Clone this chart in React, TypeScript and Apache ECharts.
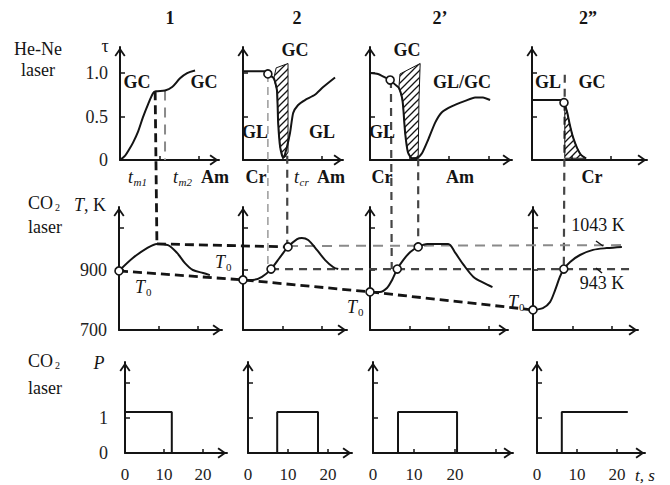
import React, { useEffect, useRef } from 'react';
import * as echarts from 'echarts';

const FONT = '"Liberation Serif", "DejaVu Serif", serif';
const INK = '#141414';

// ---------- data (t in s; τ; T in K; P in a.u.) ----------
const colTitles = ['1', '2', '2’', '2”'];

// He-Ne probe transmission τ(t)
const tau1 = [[0, 0], [1.3, 0.05], [2.3, 0.12], [3.3, 0.2], [4.6, 0.33], [5.8, 0.49], [7.1, 0.64], [8.4, 0.77], [9.1, 0.79], [11.4, 0.8], [13.2, 0.84], [15.2, 0.94], [17.0, 1.0], [19.0, 1.03]];
const tau2 = [[0, 1.02], [6.1, 1.02], [6.3, 0.99], [7.8, 0.94], [8.6, 0.8], [8.9, 0.43], [9.4, 0.15], [10.1, 0.03], [10.6, 0.06], [11.9, 0.31], [12.7, 0.54], [13.9, 0.63], [15.7, 0.69], [18.2, 0.75], [20.3, 0.84], [23.3, 0.95]];
const tau3 = [[0, 1.0], [2.0, 0.99], [3.8, 0.95], [5.1, 0.92], [6.3, 0.87], [7.3, 0.83], [8.1, 0.72], [8.4, 0.61], [8.9, 0.31], [9.6, 0.09], [10.6, 0.02], [11.9, 0.02], [13.2, 0.08], [14.7, 0.23], [16.5, 0.43], [18.2, 0.55], [20.8, 0.62], [24.1, 0.68], [26.6, 0.72], [28.6, 0.72], [30.4, 0.69]];
const tau4 = [[0, 0.69], [7.6, 0.69], [8.1, 0.66], [8.9, 0.55], [9.6, 0.4], [10.4, 0.26], [11.4, 0.14], [12.4, 0.06], [13.7, 0.02]];

// hatched (crystallisation) regions on τ(t)
const hatch2 = [[7.8, 0.94], [8.4, 1.06], [11.4, 1.11], [11.4, 0.09], [10.6, 0.03], [10.1, 0.03], [9.4, 0.15], [8.9, 0.43], [8.6, 0.8]];
const hatch3 = [[7.3, 0.83], [7.6, 0.99], [12.7, 1.11], [12.4, 0.69], [12.2, 0.03], [10.6, 0.02], [9.6, 0.09], [8.9, 0.31], [8.4, 0.61], [8.1, 0.72]];
const hatch4 = [[8.3, 0.66], [8.9, 0.55], [9.6, 0.4], [10.4, 0.26], [11.4, 0.14], [12.4, 0.06], [13.7, 0.02], [8.3, 0.02]];

const tauMarks2 = [[6.3, 0.99]];
const tauMarks3 = [[5.1, 0.92]];
const tauMarks4 = [[8.1, 0.66]];

// CO2-heated temperature T(t)
const temp1 = [[0, 897], [3.5, 940], [7.1, 973], [9.6, 987], [12.4, 983], [14.7, 957], [16.7, 923], [18.7, 900], [21.3, 890], [23.0, 883]];
const temp2 = [[0, 867], [2.5, 867], [4.8, 877], [7.1, 903], [9.4, 943], [11.4, 977], [13.7, 1003], [14.9, 1007], [16.5, 1000], [18.7, 967], [20.8, 933], [22.8, 910], [24.1, 903]];
const temp3 = [[0, 827], [2.5, 827], [4.3, 840], [5.6, 867], [6.9, 903], [8.4, 933], [10.2, 960], [12.2, 977], [14.5, 987], [19.8, 987], [21.6, 957], [23.7, 917], [26.2, 877], [28.8, 857], [31.0, 843]];
const temp4 = [[0, 767], [2.5, 773], [4.3, 793], [5.6, 833], [6.8, 877], [7.8, 903], [9.4, 927], [11.9, 950], [15.2, 967], [18.7, 973], [22.5, 977]];

const tempMarks1 = [[0, 897]];
const tempMarks2 = [[0, 867], [7.1, 903], [11.4, 977]];
const tempMarks3 = [[0, 827], [6.9, 903], [12.2, 977]];
const tempMarks4 = [[0, 767], [7.8, 903]];

// CO2 laser power P(t)
const pulse1 = [[0, 1.17], [12.0, 1.17], [12.0, 0]];
const pulse2 = [[7.3, 0], [7.3, 1.17], [17.5, 1.17], [17.5, 0]];
const pulse3 = [[6.1, 0], [6.1, 1.17], [20.5, 1.17], [20.5, 0]];
const pulse4 = [[6.2, 0], [6.2, 1.17], [22.7, 1.17]];

// tick values
const tauTicks = [0.5, 1.0];
const tauLabels = [0, 0.5, 1.0];
const tempTicks = [900, 1040];
const tempLabels = [700, 900];
const powerTicks = [1, 2];
const powerLabels = [0, 1];
const timeTicks = [10, 20];
const timeTicksLong = [10, 20, 30];
const timeLabels = [0, 10, 20];

// cross-panel guide lines: [panel, t, value]
const guideTm1 = [[0, 8.9, 0.79], [4, 9.6, 987]];
const guideTm2 = [[0, 11.4, 0.8], [0, 11.4, 0]];
const guideCr2 = [[1, 6.3, 0.99], [5, 6.3, 915]];
const guideTcr2 = [[1, 11.2, 0.05], [5, 11.2, 977]];
const guideCr3 = [[2, 5.3, 0.92], [6, 5.5, 903]];
const guideEnd3 = [[2, 12.2, 0.02], [6, 12.2, 977]];
const guideCr4 = [[3, 8.3, 0.98], [7, 7.8, 903]];
const peakLink = [[4, 9.6, 987], [5, 11.4, 977]];
const level1043 = [[5, 11.4, 980], [7, 23.8, 983]];
const level943 = [[5, 7.1, 903], [7, 25.0, 903]];
const t0Link = [[4, 0, 897], [5, 0, 867], [6, 0, 827], [7, 0, 767]];

// ---------- layout ----------
const ROWS = [
  { top: 47, height: 113, yMin: 0, yMax: 1.3, lefts: [120, 243, 370, 532], widths: [99, 100, 142, 115], pps: [3.95, 3.95, 3.95, 3.95] },
  { top: 207, height: 123, yMin: 700, yMax: 1110, lefts: [119, 243, 370, 533], widths: [103, 104, 138, 105], pps: [3.95, 3.95, 3.95, 3.95] },
  { top: 362, height: 91, yMin: 0, yMax: 2.6, lefts: [125, 248, 373, 537], widths: [102, 104, 140, 108], pps: [3.9, 4.0, 4.1, 4.0] },
];

const ARROW = 'path://M6,0L12,8.6L10.4,9.8L6,3.4L1.6,9.8L0,8.6Z';

function makeHatch() {
  const c = document.createElement('canvas');
  c.width = 7; c.height = 7;
  const g = c.getContext('2d')!;
  g.strokeStyle = INK; g.lineWidth = 1.3;
  g.beginPath();
  g.moveTo(0, 7); g.lineTo(7, 0);
  g.moveTo(-1, 1); g.lineTo(1, -1);
  g.moveTo(6, 8); g.lineTo(8, 6);
  g.stroke();
  return { image: c.toDataURL(), repeat: 'repeat', imageWidth: 7, imageHeight: 7 };
}

const txt = (x: number, y: number, text: string, extra: any = {}) => ({
  type: 'text', x, y, z: 10, silent: true,
  style: { text, fontFamily: FONT, fontSize: 18, fill: INK, align: 'center', verticalAlign: 'middle', ...extra },
});
const withSub = (x: number, y: number, main: string, sub: string, mainW: number, mainExtra: any = {}, subExtra: any = {}, drop = 5) => [
  txt(x, y, main, { align: 'left', ...mainExtra }),
  txt(x + mainW, y + drop, sub, { align: 'left', fontSize: 11, ...subExtra }),
];

export default function App() {
  const ref = useRef<HTMLDivElement>(null);
  useEffect(() => {
    document.body.style.margin = '0';
    const chart = echarts.init(ref.current!, null, { renderer: 'svg' });
    const hatch = makeHatch();

    const grids: any[] = [];
    const xAxes: any[] = [];
    const yAxes: any[] = [];
    ROWS.forEach((row, r) => {
      row.lefts.forEach((left, c) => {
        const g = r * 4 + c;
        grids.push({ left, top: row.top, width: row.widths[c], height: row.height, containLabel: false, outerBoundsMode: 'none' });
        const xMax = row.widths[c] / row.pps[c];
        const axisLine = { show: true, onZero: false, lineStyle: { color: INK, width: 2 }, symbol: ['none', ARROW], symbolSize: [11, 10], symbolOffset: [0, -5] };
        xAxes.push({
          type: 'value', gridIndex: g, min: 0, max: xMax, axisLine,
          axisTick: { show: true, inside: true, length: 4, lineStyle: { color: INK, width: 1.5 }, customValues: c === 2 ? timeTicksLong : timeTicks },
          axisLabel: r === 2 ? { show: true, customValues: timeLabels, fontFamily: FONT, fontSize: 17, color: '#222', margin: 13 } : { show: false },
          splitLine: { show: false },
        });
        const yt = r === 0 ? tauTicks : r === 1 ? tempTicks : powerTicks;
        const yl = r === 0 ? tauLabels : r === 1 ? tempLabels : powerLabels;
        yAxes.push({
          type: 'value', gridIndex: g, min: row.yMin, max: row.yMax, axisLine,
          axisTick: { show: true, inside: true, length: 5, lineStyle: { color: INK, width: 1.5 }, customValues: yt },
          axisLabel: c === 0 ? {
            show: true, customValues: yl, fontFamily: FONT, fontSize: 18, color: '#222', margin: r === 2 ? 17 : 12,
            formatter: (v: number) => (r === 0 && v === 1 ? '1.0' : String(v)),
          } : { show: false },
          splitLine: { show: false },
        });
      });
    });

    const curve = (g: number, data: number[][], smooth: number | boolean = 0.3) => ({
      type: 'line', xAxisIndex: g, yAxisIndex: g, data, showSymbol: false, smooth, silent: true, z: 3,
      lineStyle: { color: INK, width: 2 },
    });
    const marks = (g: number, data: number[][]) => ({
      type: 'scatter', xAxisIndex: g, yAxisIndex: g, data, symbol: 'circle', symbolSize: 8, silent: true, z: 5,
      itemStyle: { color: '#fff', borderColor: INK, borderWidth: 1.6, opacity: 1 },
    });
    const hatched = (g: number, poly: number[][]) => ({
      type: 'custom', xAxisIndex: g, yAxisIndex: g, data: [poly[0]], silent: true, z: 2,
      renderItem: (_p: any, api: any) => ({
        type: 'polygon',
        shape: { points: poly.map((p) => api.coord(p)) },
        style: { fill: hatch, stroke: INK, lineWidth: 1 },
      }),
    });

    const series: any[] = [
      curve(0, tau1), curve(1, tau2, 0.2), curve(2, tau3, 0.2), curve(3, tau4, 0.2),
      hatched(1, hatch2), hatched(2, hatch3), hatched(3, hatch4),
      marks(1, tauMarks2), marks(2, tauMarks3), marks(3, tauMarks4),
      curve(4, temp1), curve(5, temp2), curve(6, temp3), curve(7, temp4),
      marks(4, tempMarks1), marks(5, tempMarks2), marks(6, tempMarks3), marks(7, tempMarks4),
      curve(8, pulse1, false), curve(9, pulse2, false), curve(10, pulse3, false), curve(11, pulse4, false),
    ];

    chart.setOption({
      animation: false,
      backgroundColor: '#fff',
      grid: grids, xAxis: xAxes, yAxis: yAxes, series,
    });

    const px = (p: number[]) => chart.convertToPixel({ gridIndex: p[0] } as any, [p[1], p[2]]) as number[];
    const BOLD = { stroke: INK, lineWidth: 2.8, lineDash: [9, 5] };
    const MID = { stroke: '#454545', lineWidth: 2.2, lineDash: [8, 6] };
    const GRAY = { stroke: '#8a8a8a', lineWidth: 2, lineDash: [10, 7] };
    const THIN = { stroke: '#9a9a9a', lineWidth: 1.5, lineDash: [8, 5] };
    const guides: [number[][], any][] = [
      [guideTm1, BOLD], [guideTm2, GRAY], [guideCr2, THIN], [guideTcr2, MID],
      [guideCr3, MID], [guideEnd3, MID], [guideCr4, MID],
      [peakLink, BOLD], [level1043, GRAY], [level943, MID], [t0Link, BOLD],
    ];
    const guideEls = guides.map(([pts, st]) => ({
      type: 'polyline', z: 1, silent: true, shape: { points: pts.map(px) }, style: { ...st, fill: null },
    }));

    const B = { fontWeight: 'bold' };
    const I = { fontStyle: 'italic' };
    const texts: any[] = [
      txt(170, 18, colTitles[0], B), txt(297, 18, colTitles[1], B), txt(440, 18, colTitles[2], B), txt(588, 18, colTitles[3], B),
      txt(38, 49, 'He-Ne'), txt(38, 70, 'laser'),
      ...withSub(28, 203, 'CO', '2', 27, {}, { fontSize: 10 }, 4), txt(45, 227, 'laser'),
      ...withSub(28, 361, 'CO', '2', 27, {}, { fontSize: 10 }, 4), txt(45, 388, 'laser'),
      txt(105, 46, 'τ'),
      txt(90, 205, '{i|T}{n|, K}', { rich: { i: { fontFamily: FONT, fontSize: 18, fontStyle: 'italic', fill: INK }, n: { fontFamily: FONT, fontSize: 18, fill: INK } } }),
      txt(99, 363, 'P', I),
      // column 1
      txt(137, 82, 'GC', B), txt(204, 82, 'GC', B),
      ...withSub(128, 177, 't', 'm1', 5.5, I, I), ...withSub(173, 177, 't', 'm2', 5.5, I, I),
      txt(215, 177, 'Am', B),
      // column 2
      txt(295, 50, 'GC', B), txt(255, 132, 'GL', B), txt(322, 132, 'GL', B), txt(256, 177, 'Cr', B),
      ...withSub(294, 177, 't', 'cr', 5.5, I, I), txt(331, 177, 'Am', B),
      // column 3
      txt(407, 50, 'GC', B), txt(382, 132, 'GL', B), txt(462, 82, 'GL/GC', B), txt(382, 177, 'Cr', B), txt(460, 177, 'Am', B),
      // column 4
      txt(548, 82, 'GL', B), txt(592, 82, 'GC', B), txt(592, 177, 'Cr', B),
      // middle row
      ...withSub(135, 287, 'T', '0', 11, I), ...withSub(215, 262, 'T', '0', 11, I),
      ...withSub(347, 307, 'T', '0', 11, I), ...withSub(508, 302, 'T', '0', 11, I),
      txt(598, 225, '1043 K'), txt(602, 283, '943 K'),
      { type: 'line', z: 4, silent: true, shape: { x1: 596, y1: 241, x2: 603, y2: 246 }, style: { stroke: INK, lineWidth: 1.5 } },
      { type: 'line', z: 4, silent: true, shape: { x1: 596, y1: 268, x2: 602, y2: 273 }, style: { stroke: INK, lineWidth: 1.5 } },
      // bottom row
      txt(645, 475, 't, s', { ...I, fontSize: 17 }),
    ];

    chart.setOption({ graphic: { elements: [...guideEls, ...texts] } });
    return () => chart.dispose();
  }, []);
  return <div ref={ref} style={{ width: 670, height: 485 }} />;
}
